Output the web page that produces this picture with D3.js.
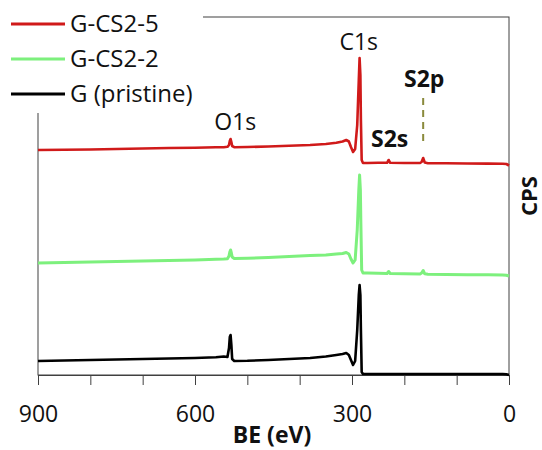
<!DOCTYPE html>
<html>
<head>
<meta charset="utf-8">
<script src="https://cdn.jsdelivr.net/npm/d3@7"></script>
<style>
  body { margin: 0; background: #fff; }
  svg { display: block; font-family: "Open Sans", sans-serif; }
</style>
</head>
<body>
<div id="chart"></div>
<script>
// binding energy grid (eV), shared by all three spectra
const be = [900, 850, 800, 750, 700, 650, 600, 560, 545, 538, 535, 533.5, 532, 530.5, 529, 525,
            500, 460, 420, 380, 350, 330, 318, 311, 306, 302, 298, 294, 290, 287, 285.5, 284, 283,
            281.5, 279, 270, 250, 233, 230, 227, 200, 170, 167, 164, 161, 155, 120, 80, 40, 12, 5, 0];

// intensities (kCPS, stacked offsets as plotted)
const gcs25 = [22.5, 22.52, 22.55, 22.6, 22.65, 22.7, 22.73, 22.77, 22.78, 22.82, 23.0, 23.4, 23.6, 23.3, 22.9, 22.78,
               22.8, 22.85, 22.92, 23.0, 23.1, 23.22, 23.35, 23.5, 23.35, 22.8, 22.3, 22.6, 25.0, 29.5, 31.7, 30.0, 25.5,
               21.5, 21.2, 21.2, 21.22, 21.22, 21.5, 21.22, 21.2, 21.2, 21.3, 21.7, 21.25, 21.18, 21.17, 21.15, 21.14, 21.13, 21.1, 20.95];
const gcs22 = [11.2, 11.25, 11.3, 11.35, 11.4, 11.45, 11.5, 11.57, 11.6, 11.63, 11.9, 12.3, 12.5, 12.2, 11.8, 11.65,
               11.68, 11.75, 11.85, 11.95, 12.0, 12.1, 12.15, 12.25, 12.1, 11.6, 11.2, 11.5, 14.5, 18.5, 20.0, 18.5, 15.0,
               10.5, 10.2, 10.2, 10.17, 10.15, 10.35, 10.15, 10.12, 10.1, 10.2, 10.45, 10.12, 10.08, 10.05, 10.03, 10.02, 10.0, 9.98, 9.9];
const gPristine = [1.4, 1.45, 1.5, 1.55, 1.6, 1.65, 1.7, 1.78, 1.85, 1.8, 2.7, 3.8, 4.0, 3.0, 1.6, 1.4,
                   1.42, 1.5, 1.6, 1.7, 1.85, 2.0, 2.1, 2.2, 2.0, 1.5, 1.0, 1.4, 4.5, 8.0, 9.0, 8.0, 4.5,
                   0.3, 0.1, 0.1, 0.1, 0.1, 0.1, 0.1, 0.1, 0.1, 0.1, 0.1, 0.1, 0.1, 0.1, 0.1, 0.1, 0.1, 0.08, 0.0];

const seriesNames = ["G-CS2-5", "G-CS2-2", "G (pristine)"];
const seriesValues = [gcs25, gcs22, gPristine];
const seriesColors = ["#d01a1a", "#7df07d", "#000000"];

const xTicks = [900, 800, 700, 600, 500, 400, 300, 200, 100, 0];
const xLabelled = [900, 600, 300, 0];

// peak annotations: [label, BE, kCPS, bold]
const peaks = [["O1s", 523, 24.5, false], ["C1s", 287, 32.5, false], ["S2s", 228, 22.8, true], ["S2p", 162, 28.8, true]];
const s2pMarker = {be: 164, from: 27.7, to: 23.3};

const width = 542, height = 450;
const margin = {top: 17, right: 33, bottom: 75, left: 38};

const svg = d3.select('#chart').append('svg')
    .attr('width', width)
    .attr('height', height);

const xScale = d3.scaleLinear()
    .domain([900, 0])
    .range([margin.left, width - margin.right]);

const yScale = d3.scaleLinear()
    .domain([0, 35.8])
    .range([height - margin.bottom, margin.top]);

// plot frame
svg.append('rect')
    .attr('x', xScale.range()[0])
    .attr('y', yScale.range()[1])
    .attr('width', xScale.range()[1] - xScale.range()[0])
    .attr('height', yScale.range()[0] - yScale.range()[1])
    .style('fill', 'none')
    .style('stroke', '#404040')
    .style('stroke-width', 1);

// bottom axis, ticks every 100 eV, labels every 300 eV
const xAxis = d3.axisBottom(xScale)
    .tickValues(xTicks)
    .tickSizeInner(10)
    .tickSizeOuter(0)
    .tickPadding(21)
    .tickFormat(d => xLabelled.includes(d) ? d : '');

const axisG = svg.append('g')
    .attr('transform', `translate(0,${yScale(0)})`)
    .call(xAxis);
axisG.select('.domain').style('stroke', '#404040');
axisG.selectAll('line').style('stroke', '#404040');
axisG.selectAll('text')
    .style('font-family', '"Open Sans", sans-serif')
    .style('font-size', '23px')
    .style('fill', '#111');

const line = d3.line()
    .x(d => xScale(d[0]))
    .y(d => yScale(d[1]));

// spectra
seriesValues.forEach((vals, i) => {
    svg.append('path')
        .datum(be.map((b, j) => [b, vals[j]]))
        .attr('d', line)
        .style('fill', 'none')
        .style('stroke', seriesColors[i])
        .style('stroke-width', i === 1 ? 3 : 2.6)
        .style('stroke-linejoin', 'round');
});

// peak labels
svg.selectAll('.peak')
    .data(peaks)
    .enter()
    .append('text')
    .attr('class', 'peak')
    .attr('x', d => xScale(d[1]))
    .attr('y', d => yScale(d[2]))
    .attr('text-anchor', 'middle')
    .style('font-size', '23px')
    .style('font-weight', d => d[3] ? 'bold' : 'normal')
    .style('fill', '#111')
    .text(d => d[0]);

svg.append('line')
    .attr('x1', xScale(s2pMarker.be))
    .attr('x2', xScale(s2pMarker.be))
    .attr('y1', yScale(s2pMarker.from))
    .attr('y2', yScale(s2pMarker.to))
    .style('stroke', '#8a8a3c')
    .style('stroke-width', 2)
    .style('stroke-dasharray', '7,5');

// axis titles
svg.append('text')
    .attr('x', 272)
    .attr('y', 443)
    .attr('text-anchor', 'middle')
    .style('font-size', '23px')
    .style('font-weight', 'bold')
    .style('fill', '#111')
    .text('BE (eV)');

svg.append('text')
    .attr('transform', 'translate(537,196) rotate(-90)')
    .attr('text-anchor', 'middle')
    .style('font-size', '22px')
    .style('font-weight', 'bold')
    .style('fill', '#111')
    .text('CPS');

// legend on a white box over the top-left corner of the frame
const legend = svg.append('g');
legend.append('rect')
    .attr('x', 0).attr('y', 0)
    .attr('width', 203).attr('height', 113)
    .style('fill', '#fff');

const items = legend.selectAll('.item')
    .data(seriesNames)
    .enter()
    .append('g')
    .attr('class', 'item')
    .attr('transform', (d, i) => `translate(0,${24 + i * 35})`);

items.append('line')
    .attr('x1', 11).attr('x2', 65)
    .style('stroke', (d, i) => seriesColors[i])
    .style('stroke-width', 3);

items.append('text')
    .attr('x', 70)
    .attr('dy', '0.35em')
    .style('font-size', '24px')
    .style('fill', '#111')
    .text(d => d);
</script>
</body>
</html>
